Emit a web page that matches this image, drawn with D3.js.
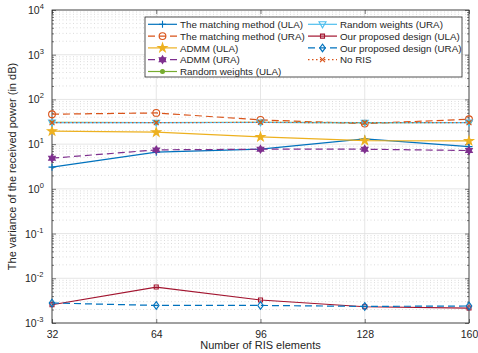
<!DOCTYPE html>
<html lang="en">
<head>
<meta charset="UTF-8">
<title>Variance of received power</title>
<script src="https://d3js.org/d3.v7.min.js"></script>
<style>
  body { margin: 0; background: #fff; }
  text { font-family: "Liberation Sans", Arial, sans-serif; fill: #262626; }
</style>
</head>
<body>
<svg id="chart" width="478" height="353"></svg>
<script>
// x values (number of RIS elements)
var elements = [32, 64, 96, 128, 160];
var xTicks = [32, 64, 96, 128, 160];
var yTickExp = [-3, -2, -1, 0, 1, 2, 3, 4];

// series values
var matchingULA = [3.06, 6.6, 7.7, 13.1, 8.8];
var matchingURA = [46.7, 49.9, 34.8, 28.8, 36.1];
var admmULA = [19.5, 18.5, 14.5, 12.0, 11.8];
var admmURA = [4.85, 7.45, 7.7, 7.7, 7.2];
var randomULA = [30.6, 30.5, 30.8, 30.4, 30.5];
var randomURA = [30.3, 30.2, 30.5, 30.1, 30.3];
var proposedULA = [0.00256, 0.00637, 0.00327, 0.00231, 0.00216];
var proposedURA = [0.0028, 0.00247, 0.00247, 0.00235, 0.0024];
var noRIS = [30.4, 30.3, 30.6, 30.2, 30.4];

var series = [
  { name: "The matching method (ULA)", values: matchingULA, color: "#0072BD", dash: null, marker: "plus" },
  { name: "The matching method (URA)", values: matchingURA, color: "#D95319", dash: "7,4", marker: "circle" },
  { name: "ADMM (ULA)", values: admmULA, color: "#EDB120", dash: null, marker: "star" },
  { name: "ADMM (URA)", values: admmURA, color: "#7E2F8E", dash: "7,4", marker: "hexagram" },
  { name: "Random weights (ULA)", values: randomULA, color: "#77AC30", dash: null, marker: "dot" },
  { name: "Random weights (URA)", values: randomURA, color: "#4DBEEE", dash: null, marker: "triangle" },
  { name: "Our proposed design (ULA)", values: proposedULA, color: "#A2142F", dash: null, marker: "square" },
  { name: "Our proposed design (URA)", values: proposedURA, color: "#0072BD", dash: "7,4", marker: "diamond" },
  { name: "No RIS", values: noRIS, color: "#D95319", dash: "1.5,2.5", marker: "cross" }
];

var svg = d3.select("#chart");
var pLeft = 52, pRight = 469, pTop = 10, pBottom = 323;

var x = d3.scaleLinear().domain([32, 160]).range([pLeft, pRight]);
var y = d3.scaleLog().domain([1e-3, 1e4]).range([pBottom, pTop]);

// grid
var grid = svg.append("g");
var minorVals = [];
yTickExp.forEach(function(e) {
  if (e < 4) for (var k = 2; k <= 9; k++) minorVals.push(k * Math.pow(10, e));
});
grid.selectAll("line.minor")
  .data(minorVals)
  .join("line")
  .attr("x1", pLeft).attr("x2", pRight)
  .attr("y1", function(d) { return y(d); })
  .attr("y2", function(d) { return y(d); })
  .style("stroke", "#c4c4c4")
  .style("stroke-width", 0.6)
  .style("stroke-dasharray", "1,2.5");
grid.selectAll("line.majorY")
  .data(yTickExp)
  .join("line")
  .attr("x1", pLeft).attr("x2", pRight)
  .attr("y1", function(d) { return y(Math.pow(10, d)); })
  .attr("y2", function(d) { return y(Math.pow(10, d)); })
  .style("stroke", "#e0e0e0")
  .style("stroke-width", 0.8);
grid.selectAll("line.majorX")
  .data(xTicks)
  .join("line")
  .attr("x1", function(d) { return x(d); })
  .attr("x2", function(d) { return x(d); })
  .attr("y1", pTop).attr("y2", pBottom)
  .style("stroke", "#e0e0e0")
  .style("stroke-width", 0.8);

// axes (ticks inward, box on)
var axisColor = "#262626";
function styleAxis(g) {
  g.select(".domain").remove();
  g.selectAll("line").style("stroke", axisColor).style("stroke-width", 0.6);
}
svg.append("g").attr("transform", "translate(0," + pBottom + ")")
  .call(d3.axisBottom(x).tickValues(xTicks).tickSizeInner(-4).tickSizeOuter(0).tickPadding(8))
  .call(styleAxis)
  .selectAll("text").style("font-size", "10.5px").style("fill", axisColor)
  .style("font-family", "'Liberation Sans', Arial, sans-serif");
svg.append("g").attr("transform", "translate(0," + pTop + ")")
  .call(d3.axisTop(x).tickValues(xTicks).tickSizeInner(-4).tickSizeOuter(0).tickFormat(""))
  .call(styleAxis);

var yMajor = yTickExp.map(function(e) { return Math.pow(10, e); });
svg.append("g").attr("transform", "translate(" + pLeft + ",0)")
  .call(d3.axisLeft(y).tickValues(yMajor).tickSizeInner(-4).tickSizeOuter(0).tickFormat(""))
  .call(styleAxis);
svg.append("g").attr("transform", "translate(" + pRight + ",0)")
  .call(d3.axisRight(y).tickValues(yMajor).tickSizeInner(-4).tickSizeOuter(0).tickFormat(""))
  .call(styleAxis);
svg.append("g").attr("transform", "translate(" + pLeft + ",0)")
  .call(d3.axisLeft(y).tickValues(minorVals).tickSizeInner(-2).tickSizeOuter(0).tickFormat(""))
  .call(styleAxis);
svg.append("g").attr("transform", "translate(" + pRight + ",0)")
  .call(d3.axisRight(y).tickValues(minorVals).tickSizeInner(-2).tickSizeOuter(0).tickFormat(""))
  .call(styleAxis);

svg.append("rect")
  .attr("x", pLeft).attr("y", pTop)
  .attr("width", pRight - pLeft).attr("height", pBottom - pTop)
  .style("fill", "none").style("stroke", axisColor).style("stroke-width", 0.8);

// y tick labels 10^n
var yLab = svg.append("g").selectAll("text")
  .data(yTickExp)
  .join("text")
  .attr("x", 36)
  .attr("y", function(d) { return y(Math.pow(10, d)) + 4; })
  .attr("text-anchor", "start")
  .style("font-size", "10.5px");
yLab.append("tspan").attr("x", function(d) { return d < 0 ? 25 : 28; }).text("10");
yLab.append("tspan").attr("dy", -5).style("font-size", "7.5px").text(function(d) { return d; });

// axis titles
svg.append("text")
  .attr("x", (pLeft + pRight) / 2).attr("y", 349)
  .attr("text-anchor", "middle")
  .style("font-size", "11px")
  .text("Number of RIS elements");
svg.append("text")
  .attr("transform", "translate(16," + ((pTop + pBottom) / 2) + ") rotate(-90)")
  .attr("text-anchor", "middle")
  .style("font-size", "11px")
  .text("The variance of the received power (in dB)");

// markers
function markerPath(type) {
  switch (type) {
    case "plus": return "M-3.5,0H3.5M0,-3.5V3.5";
    case "cross": return "M-2.5,-2.5L2.5,2.5M-2.5,2.5L2.5,-2.5";
    case "circle": return d3.symbol(d3.symbolCircle, 36)();
    case "dot": return d3.symbol(d3.symbolCircle, 12)();
    case "star": return d3.symbol(d3.symbolStar, 24)();
    case "square": return d3.symbol(d3.symbolSquare, 16)();
    case "diamond": return "M0,-3.8L2.8,0L0,3.8L-2.8,0Z";
    case "triangle": return "M-3.5,-2.5L3.5,-2.5L0,3.5Z";
    case "hexagram":
      var pts = [];
      for (var i = 0; i < 12; i++) {
        var r = i % 2 === 0 ? 3.8 : 2.2;
        var a = Math.PI / 6 * i - Math.PI / 2;
        pts.push([r * Math.cos(a), r * Math.sin(a)]);
      }
      return "M" + pts.join("L") + "Z";
  }
}
function markerFill(s) {
  return (s.marker === "star" || s.marker === "hexagram" || s.marker === "dot") ? s.color : "none";
}

var line = d3.line()
  .x(function(d, i) { return x(elements[i]); })
  .y(function(d) { return y(d); });

var plot = svg.append("g");
series.forEach(function(s) {
  var g = plot.append("g");
  g.append("path")
    .datum(s.values)
    .attr("d", line)
    .style("fill", "none")
    .style("stroke", s.color)
    .style("stroke-width", 1.2)
    .style("stroke-dasharray", s.dash);
  g.selectAll("path.m")
    .data(s.values)
    .join("path")
    .attr("class", "m")
    .attr("transform", function(d, i) { return "translate(" + x(elements[i]) + "," + y(d) + ")"; })
    .attr("d", markerPath(s.marker))
    .style("fill", markerFill(s))
    .style("stroke", s.color)
    .style("stroke-width", 1.1);
});

// legend
var legend = svg.append("g");
legend.append("rect")
  .attr("x", 145).attr("y", 17)
  .attr("width", 317).attr("height", 60)
  .style("fill", "#fff").style("stroke", axisColor).style("stroke-width", 0.8);
var rowH = 11.8;
var items = legend.selectAll("g.item")
  .data(series)
  .join("g")
  .attr("transform", function(d, i) {
    var col = i < 5 ? 0 : 1;
    var row = i < 5 ? i : i - 5;
    return "translate(" + (col === 0 ? 148 : 308) + "," + (24.3 + row * rowH) + ")";
  });
items.append("line")
  .attr("x1", 0).attr("x2", 29)
  .style("stroke", function(d) { return d.color; })
  .style("stroke-width", 1.2)
  .style("stroke-dasharray", function(d) { return d.dash; });
items.append("path")
  .attr("transform", "translate(14.5,0)")
  .attr("d", function(d) { return markerPath(d.marker); })
  .style("fill", function(d) { return markerFill(d); })
  .style("stroke", function(d) { return d.color; })
  .style("stroke-width", 1.1);
items.append("text")
  .attr("x", 32).attr("y", 3.6)
  .style("font-size", "9.8px")
  .text(function(d) { return d.name; });
</script>
</body>
</html>
